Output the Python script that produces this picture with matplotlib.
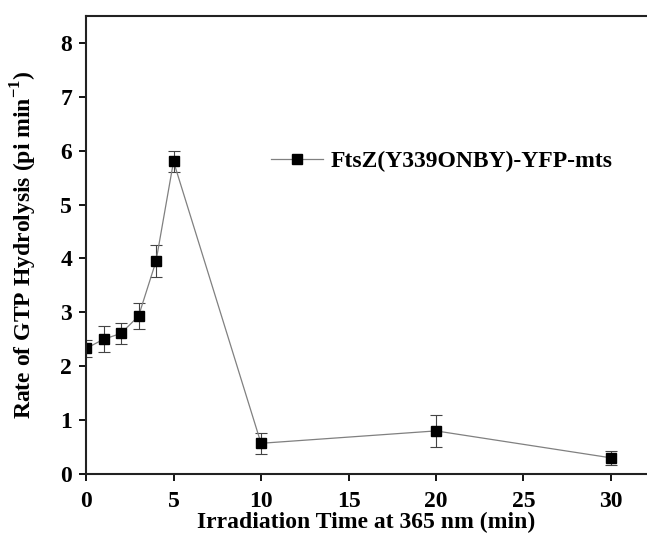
import matplotlib
matplotlib.use("Agg")
import matplotlib.pyplot as plt
from matplotlib.lines import Line2D

# irradiation time (min) and hydrolysis rate
time_min = [0, 1, 2, 3, 4, 5, 10, 20, 30]
rate = [2.33, 2.50, 2.61, 2.93, 3.95, 5.80, 0.57, 0.80, 0.30]
rate_err = [0.15, 0.24, 0.20, 0.24, 0.30, 0.20, 0.20, 0.30, 0.13]
series_label = "FtsZ(Y339ONBY)-YFP-mts"

plt.rcParams['font.family'] = ['Liberation Serif', 'DejaVu Serif']
plt.rcParams['font.weight'] = 'bold'
plt.rcParams['mathtext.fontset'] = 'custom'
plt.rcParams['mathtext.rm'] = 'Liberation Serif:bold'
plt.rcParams['mathtext.bf'] = 'Liberation Serif:bold'

fig = plt.figure(figsize=(6.47, 5.37), dpi=100)
ax = fig.add_axes([0.133, 0.1173, 0.867, 0.853])

ax.errorbar(time_min, rate, yerr=rate_err, color='#808080', lw=0.9,
            marker='s', ms=7.5, mfc='black', mec='black',
            ecolor='#444444', elinewidth=0.8, capsize=4, capthick=0.8)

ax.set_xlim(0, 32.06)
ax.set_ylim(0, 8.5)
ax.set_xticks([0, 5, 10, 15, 20, 25, 30])
ax.set_yticks(range(0, 9))

for s in ax.spines.values():
    s.set_linewidth(1.5)
    s.set_color('#222222')
ax.spines['right'].set_visible(False)

ax.tick_params(direction='out', length=5, width=1.3, labelsize=17)
ax.tick_params(axis='x', pad=7)
ax.tick_params(axis='y', pad=5)
ax.tick_params(top=False, right=False)

ax.set_xlabel("Irradiation Time at 365 nm (min)", fontsize=17, fontweight='bold', labelpad=0)
ax.set_ylabel("Rate of GTP Hydrolysis (pi min$^{-1}$)", fontsize=17, fontweight='bold', labelpad=15)

# legend: plain line + marker handle, no error bars in it
handle = Line2D([], [], color='#808080', lw=0.9, marker='s', ms=7.5,
                mfc='black', mec='black')
leg = ax.legend([handle], [series_label], loc='center left',
                bbox_to_anchor=(0.33, 0.683), frameon=False,
                fontsize=17, handlelength=2.2, handletextpad=0.3,
                borderaxespad=0, borderpad=0)
for t in leg.get_texts():
    t.set_fontweight('bold')

fig.savefig("out.png", dpi=100)
